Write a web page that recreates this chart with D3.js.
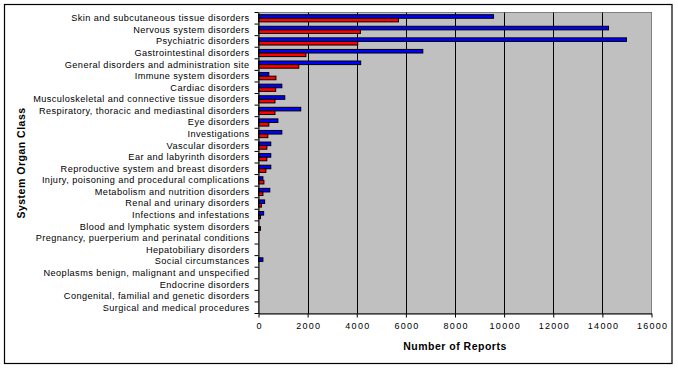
<!DOCTYPE html>
<html>
<head>
<meta charset="utf-8">
<script src="https://cdn.jsdelivr.net/npm/d3@7"></script>
<style>
  html, body { margin: 0; padding: 0; background: #fff; }
  svg { display: block; font-family: "Liberation Sans", Arial, sans-serif; }
</style>
</head>
<body>
<svg id="chart" width="678" height="369"></svg>
<script>
const categories = [
  "Skin and subcutaneous tissue disorders",
  "Nervous system disorders",
  "Psychiatric disorders",
  "Gastrointestinal disorders",
  "General disorders and administration site",
  "Immune system disorders",
  "Cardiac disorders",
  "Musculoskeletal and connective tissue disorders",
  "Respiratory, thoracic and mediastinal disorders",
  "Eye disorders",
  "Investigations",
  "Vascular disorders",
  "Ear and labyrinth disorders",
  "Reproductive system and breast disorders",
  "Injury, poisoning and procedural complications",
  "Metabolism and nutrition disorders",
  "Renal and urinary disorders",
  "Infections and infestations",
  "Blood and lymphatic system disorders",
  "Pregnancy, puerperium and perinatal conditions",
  "Hepatobiliary disorders",
  "Social circumstances",
  "Neoplasms benign, malignant and unspecified",
  "Endocrine disorders",
  "Congenital, familial and genetic disorders",
  "Surgical and medical procedures"
];
const seriesBlue = [9570, 14250, 14980, 6690, 4160, 420, 950, 1070, 1720, 790, 950, 500, 500, 500, 180, 460, 250, 210, 0, 0, 0, 180, 0, 0, 0, 0];
const seriesRed  = [5700, 4150, 4040, 1930, 1640, 710, 700, 670, 670, 420, 380, 340, 340, 300, 220, 180, 120, 80, 80, 0, 0, 0, 0, 0, 0, 0];
const seriesNames = ["Series 1", "Series 2"];
const xTicks = [0, 2000, 4000, 6000, 8000, 10000, 12000, 14000, 16000];
const xTitle = "Number of Reports";
const yTitle = "System Organ Class";

const svg = d3.select("#chart");
const pLeft = 258.5, pRight = 651.5, pTop = 12.5, pBottom = 313.5;

// outer frame
svg.append("rect").attr("x", 4.5).attr("y", 4.5).attr("width", 667.5).attr("height", 359)
  .attr("fill", "#fff").attr("stroke", "#000").attr("stroke-width", 1.2);

const x = d3.scaleLinear().domain([0, 16000]).range([pLeft, pRight]);
const y = d3.scaleBand().domain(categories).range([pTop, pBottom]).padding(0);
const y1 = d3.scaleBand().domain(seriesNames)
  .range([y.bandwidth() * 0.19, y.bandwidth() * 0.81]).padding(0);

// plot area
svg.append("rect").attr("x", pLeft).attr("y", pTop).attr("width", pRight - pLeft).attr("height", pBottom - pTop)
  .attr("fill", "#C0C0C0").attr("stroke", "#808080").attr("stroke-width", 1);

// gridlines
svg.append("g").selectAll("line").data(xTicks.slice(1, -1)).join("line")
  .attr("x1", d => Math.round(x(d)) + 0.5).attr("x2", d => Math.round(x(d)) + 0.5)
  .attr("y1", pTop).attr("y2", pBottom)
  .attr("stroke", "#000").attr("stroke-width", 1);

// bars
const rows = categories.map((c, i) => ({ c, vals: [seriesBlue[i], seriesRed[i]] }));
const colors = ["#0000FF", "#FF0000"];
const g = svg.append("g");
rows.forEach(r => {
  r.vals.forEach((v, k) => {
    g.append("rect")
      .attr("x", x(0))
      .attr("y", y(r.c) + y1(seriesNames[k]))
      .attr("width", x(v) - x(0))
      .attr("height", y1.bandwidth())
      .attr("fill", colors[k])
      .attr("stroke", v > 0 ? "#000" : "none")
      .attr("stroke-width", 1);
  });
});

// x axis
const xAxis = d3.axisBottom(x).tickValues(xTicks).tickSize(4).tickSizeOuter(0).tickFormat(d3.format("d"));
const gx = svg.append("g").attr("transform", `translate(0,${pBottom})`).call(xAxis);
gx.select(".domain").attr("stroke", "#000");
gx.selectAll(".tick line").attr("stroke", "#000");
gx.selectAll("text").attr("font-size", 9).attr("fill", "#000")
  .attr("font-family", "Liberation Sans, Arial, sans-serif")
  .attr("letter-spacing", 1.3).attr("dx", 0.65)
  .attr("dy", "0.71em").attr("y", 9);

// y axis
const yAxis = d3.axisLeft(y).tickSize(0).tickPadding(9);
const gy = svg.append("g").attr("transform", `translate(${pLeft},0)`).call(yAxis);
gy.select(".domain").attr("stroke", "#000");
gy.selectAll("text").attr("font-size", 9.2).attr("fill", "#000")
  .attr("letter-spacing", 0.42)
  .attr("font-family", "Liberation Sans, Arial, sans-serif");
// band-boundary ticks
const bounds = d3.range(categories.length + 1).map(i => pTop + i * y.step());
svg.append("g").selectAll("line").data(bounds).join("line")
  .attr("x1", pLeft - 4).attr("x2", pLeft)
  .attr("y1", d => d).attr("y2", d => d)
  .attr("stroke", "#000");

// titles
svg.append("text").attr("x", (pLeft + pRight) / 2).attr("y", 350)
  .attr("text-anchor", "middle").attr("font-size", 10.5).attr("font-weight", "bold")
  .attr("letter-spacing", 0.5).text(xTitle);
svg.append("text").attr("transform", `translate(25,${(pTop + pBottom) / 2}) rotate(-90)`)
  .attr("text-anchor", "middle").attr("font-size", 10.5).attr("font-weight", "bold")
  .attr("letter-spacing", 0.5).text(yTitle);
</script>
</body>
</html>
